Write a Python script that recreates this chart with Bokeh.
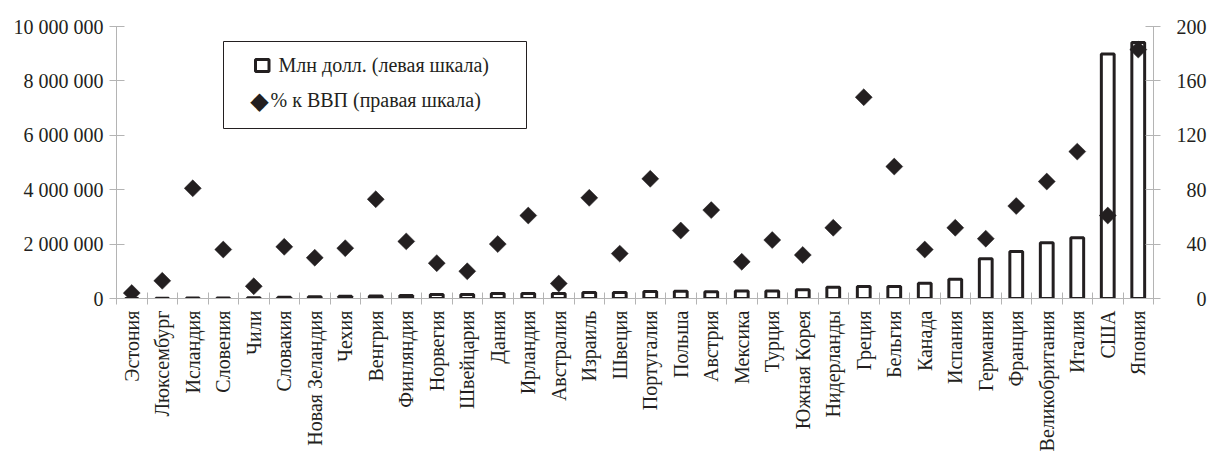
import math
from bokeh.plotting import figure
from bokeh.models import (Range1d, LinearAxis, FixedTicker, BoxAnnotation,
                          Label, ColumnDataSource)
from bokeh.embed import file_html
from bokeh.resources import INLINE

# ---------------- data ----------------
countries = ["Эстония", "Люксембург", "Исландия", "Словения", "Чили", "Словакия",
             "Новая Зеландия", "Чехия", "Венгрия", "Финляндия", "Норвегия", "Швейцария",
             "Дания", "Ирландия", "Австралия", "Израиль", "Швеция", "Португалия",
             "Польша", "Австрия", "Мексика", "Турция", "Южная Корея", "Нидерланды",
             "Греция", "Бельгия", "Канада", "Испания", "Германия", "Франция",
             "Великобритания", "Италия", "США", "Япония"]

# debt, mln USD (left axis)
debt_mln_usd = [2000, 10000, 15000, 20000, 30000, 50000,
                60000, 80000, 90000, 110000, 150000, 150000,
                180000, 180000, 180000, 220000, 220000, 260000,
                270000, 250000, 280000, 280000, 320000, 410000,
                440000, 440000, 560000, 710000, 1460000, 1730000,
                2050000, 2230000, 8990000, 9410000]

# debt, % of GDP (right axis)
debt_pct_gdp = [4, 13, 81, 36, 9, 38,
                30, 37, 73, 42, 26, 20,
                40, 61, 11, 74, 33, 88,
                50, 65, 27, 43, 32, 52,
                148, 97, 36, 52, 44, 68,
                86, 108, 61, 183]

left_ticks = [0, 2000000, 4000000, 6000000, 8000000, 10000000]
left_tick_labels = ["0", "2 000 000", "4 000 000", "6 000 000", "8 000 000", "10 000 000"]
right_ticks = [0, 40, 80, 120, 160, 200]
right_tick_labels = ["0", "40", "80", "120", "160", "200"]

legend_labels = ["Млн  долл. (левая шкала)", "% к ВВП (правая шкала)"]

# ---------------- style ----------------
FONT = "Times New Roman"
INK = "#231f20"
GRAY = "#b4b4b4"
FS = "20px"

n = len(countries)
centers = [i + 0.5 for i in range(n)]      # category slot centres
bounds = list(range(n + 1))                # category slot boundaries

src = ColumnDataSource(dict(x=centers, country=countries,
                            debt=debt_mln_usd, pct=debt_pct_gdp))

p = figure(width=1211, height=454,
           x_range=Range1d(0, n), y_range=Range1d(0, 10000000),
           x_axis_location=None,
           output_backend="svg", toolbar_location=None,
           min_border_left=116, min_border_right=58,
           min_border_top=26, min_border_bottom=153)
p.outline_line_color = None
p.grid.visible = False

p.extra_y_ranges = {"pct": Range1d(0, 200)}

# bars
p.vbar(x="x", top="debt", bottom=0, width=0.42, source=src,
       fill_color="white", line_color=INK, line_width=3)

# diamonds
p.scatter(x="x", y="pct", y_range_name="pct", source=src,
          marker="square", angle=math.pi / 4, size=12,
          fill_color=INK, line_color=INK, line_width=0.5)

def style_axis(ax):
    ax.axis_line_color = GRAY
    ax.major_tick_line_color = GRAY
    ax.minor_tick_line_color = None
    ax.major_label_text_font = FONT
    ax.major_label_text_font_size = FS
    ax.major_label_text_color = INK

# left axis
yl = p.yaxis[0]
yl.ticker = FixedTicker(ticks=left_ticks)
yl.major_label_overrides = dict(zip(left_ticks, left_tick_labels))
style_axis(yl)
yl.major_tick_in = 8
yl.major_tick_out = 7
yl.major_label_standoff = 6

# right axis (labels right-aligned with figure spaces)
width_r = max(len(s) for s in right_tick_labels)
right_padded = ["\u2007" * (width_r - len(s)) + s for s in right_tick_labels]
yr = LinearAxis(y_range_name="pct", ticker=FixedTicker(ticks=right_ticks),
                major_label_overrides=dict(zip(right_ticks, right_padded)))
style_axis(yr)
yr.major_tick_in = 8
yr.major_tick_out = 7
yr.major_label_standoff = 16
p.add_layout(yr, "right")

# bottom axis: labels at category centres, ticks at category boundaries
xb = LinearAxis(ticker=FixedTicker(ticks=centers, minor_ticks=bounds),
                major_label_overrides=dict(zip(centers, countries)))
style_axis(xb)
xb.major_tick_line_color = None
xb.major_tick_in = 0
xb.major_tick_out = 0
xb.minor_tick_line_color = GRAY
xb.minor_tick_in = 6
xb.minor_tick_out = 6
xb.major_label_orientation = math.pi / 2
xb.major_label_standoff = 6
p.add_layout(xb, "below")

# legend (screen units relative to the plot frame, y up)
p.add_layout(BoxAnnotation(left=107, right=410, top=257, bottom=170,
                           left_units="screen", right_units="screen",
                           top_units="screen", bottom_units="screen",
                           fill_color="white", fill_alpha=1.0,
                           line_color=INK, line_width=1, line_alpha=1.0))
p.add_layout(BoxAnnotation(left=139, right=152.5, top=239, bottom=227,
                           left_units="screen", right_units="screen",
                           top_units="screen", bottom_units="screen",
                           fill_color="white", fill_alpha=1.0,
                           line_color=INK, line_width=3, line_alpha=1.0))
p.add_layout(Label(x=143, y=197.5, x_units="screen", y_units="screen",
                   text="\u25c6", text_font="DejaVu Sans", text_font_size="24px",
                   text_color=INK, text_align="center", text_baseline="middle"))
p.add_layout(Label(x=162, y=234, x_units="screen", y_units="screen",
                   text=legend_labels[0], text_font=FONT, text_font_size=FS,
                   text_color=INK, text_baseline="middle"))
p.add_layout(Label(x=154, y=199, x_units="screen", y_units="screen",
                   text=legend_labels[1], text_font=FONT, text_font_size=FS,
                   text_color=INK, text_baseline="middle"))

open("out.html", "w").write(file_html(p, INLINE))
